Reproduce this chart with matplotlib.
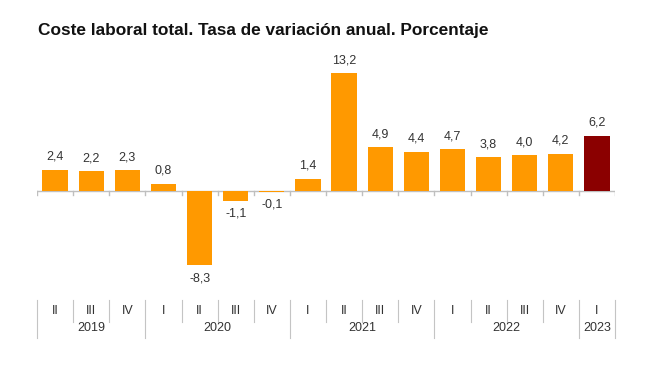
import matplotlib.pyplot as plt
from matplotlib.transforms import blended_transform_factory

plt.rcParams['font.family'] = ['Liberation Sans', 'DejaVu Sans']

# data
quarters = ['II', 'III', 'IV', 'I', 'II', 'III', 'IV', 'I', 'II', 'III', 'IV',
            'I', 'II', 'III', 'IV', 'I']
years = ['2019', '2020', '2021', '2022', '2023']
year_counts = [3, 4, 4, 4, 1]
values = [2.4, 2.2, 2.3, 0.8, -8.3, -1.1, -0.1, 1.4, 13.2, 4.9, 4.4, 4.7,
          3.8, 4.0, 4.2, 6.2]

orange = '#FF9900'
red = '#8B0000'
colors = [orange] * (len(values) - 1) + [red]

fig = plt.figure(figsize=(6.55, 3.65), dpi=100)
ax = fig.add_axes([37 / 655, 0.2438, (615 - 37) / 655, 0.588])

x = list(range(len(values)))
ax.bar(x, values, width=0.7, color=colors, zorder=2)
ax.set_xlim(-0.5, len(values) - 0.5)
ax.set_ylim(-9.5, 14.5)
ax.axis('off')

# zero line with small ticks between bars
ax.axhline(0, color='#bfbfbf', lw=1, zorder=1)
for b in range(len(values) + 1):
    ax.plot([b - 0.5, b - 0.5], [0, -0.45], color='#bfbfbf', lw=1, zorder=1)

# value labels
for xi, v in zip(x, values):
    lbl = f'{v:.1f}'.replace('.', ',')
    if v >= 0:
        ax.annotate(lbl, (xi, v), xytext=(0, 5), textcoords='offset points',
                    ha='center', va='bottom', fontsize=9, color='#333333')
    else:
        ax.annotate(lbl, (xi, v), xytext=(0, -5), textcoords='offset points',
                    ha='center', va='top', fontsize=9, color='#333333')

# category axis below
tr = blended_transform_factory(ax.transData, fig.transFigure)
sep_col = '#c4c4c4'
for xi, q in zip(x, quarters):
    ax.text(xi, 0.148, q, transform=tr, ha='center', va='center',
            fontsize=9, color='#333333')

boundaries = [0]
for c in year_counts:
    boundaries.append(boundaries[-1] + c)
for b in range(len(values) + 1):
    if b in boundaries:
        ax.plot([b - 0.5, b - 0.5], [0.178, 0.074], transform=tr,
                color=sep_col, lw=0.8, clip_on=False)
    else:
        ax.plot([b - 0.5, b - 0.5], [0.178, 0.118], transform=tr,
                color=sep_col, lw=0.8, clip_on=False)

for i, y in enumerate(years):
    mid = (boundaries[i] + boundaries[i + 1]) / 2 - 0.5
    ax.text(mid, 0.102, y, transform=tr, ha='center', va='center',
            fontsize=9, color='#333333')

fig.text(38 / 655, 1 - 31 / 365, 'Coste laboral total. Tasa de variación anual. Porcentaje',
         fontsize=12.4, fontweight='bold', ha='left', va='center', color='#111111')

fig.savefig('out.png', dpi=100, facecolor='white')
